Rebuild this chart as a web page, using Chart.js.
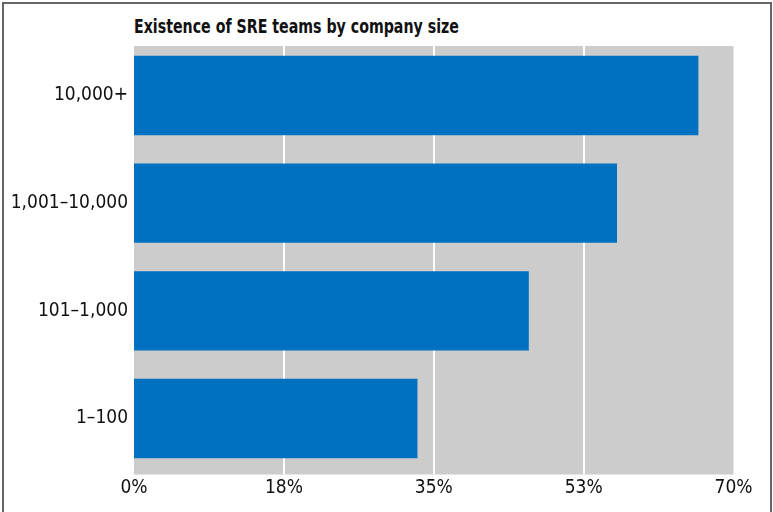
<!DOCTYPE html>
<html>
<head>
<meta charset="utf-8">
<script src="https://cdn.jsdelivr.net/npm/chart.js@4/dist/chart.umd.min.js"></script>
<style>
  html, body { margin: 0; padding: 0; background: #fff; }
  body { width: 773px; height: 512px; position: relative; overflow: hidden; }
  #frame {
    position: absolute; left: 2px; top: 2px; width: 766px; height: 520px;
    border: 2px solid #666; border-bottom: none;
  }
  #title {
    position: absolute; left: 134px; top: 15px;
    font: bold 19px "DejaVu Sans Condensed", "DejaVu Sans", sans-serif;
    color: #111; white-space: nowrap;
    transform: scaleX(0.83); transform-origin: 0 0;
  }
  #wrap { position: absolute; left: 0; top: 0; width: 773px; height: 512px; }
</style>
</head>
<body>
<div id="frame"></div>
<div id="title">Existence of SRE teams by company size</div>
<div id="wrap"><canvas id="chart"></canvas></div>
<script>
// ── Data ──
const companySizes = ['10,000+', '1,001–10,000', '101–1,000', '1–100'];
const sreTeamShare = [65.9, 56.4, 46.1, 33.1];
const axisMax = 70;
const axisStep = 17.5;

const FONT = '"DejaVu Sans Condensed", "DejaVu Sans", sans-serif';
const TEXT = '#111';
const PLOT_BG = '#cccccc';
const BAR = '#0070c0';

// Grey plot panel with white vertical guides, drawn under the bars
const panelPlugin = {
  id: 'panel',
  beforeDatasetsDraw(chart) {
    const { ctx, chartArea: a, scales: { x } } = chart;
    const top = a.top + 4.4;
    const bottom = a.bottom + 2.1;
    ctx.save();
    ctx.fillStyle = PLOT_BG;
    ctx.fillRect(a.left, top, a.right - a.left, bottom - top);
    ctx.strokeStyle = '#fff';
    ctx.lineWidth = 2;
    x.ticks.forEach((t) => {
      if (t.value <= 0 || t.value >= axisMax) return;
      const px = Math.round(x.getPixelForValue(t.value));
      ctx.beginPath();
      ctx.moveTo(px, top);
      ctx.lineTo(px, bottom);
      ctx.stroke();
    });
    ctx.restore();
  },
};

new Chart(document.getElementById('chart'), {
  type: 'bar',
  data: {
    labels: companySizes,
    datasets: [{
      data: sreTeamShare,
      backgroundColor: BAR,
      borderWidth: 0,
      categoryPercentage: 1,
      barPercentage: 0.737,
    }],
  },
  options: {
    indexAxis: 'y',
    responsive: true,
    maintainAspectRatio: false,
    animation: false,
    layout: { padding: { left: 0, top: 41.6, right: 39.5, bottom: 0 } },
    plugins: {
      legend: { display: false },
      tooltip: { enabled: false },
    },
    scales: {
      x: {
        min: 0,
        max: axisMax,
        border: { display: false },
        grid: { display: false, drawTicks: false },
        afterFit: (s) => { s.height = 39.6; },
        ticks: {
          stepSize: axisStep,
          padding: 4,
          color: TEXT,
          font: { family: FONT, size: 19 },
          maxRotation: 0,
          autoSkip: false,
          callback: (v) => Math.round(v) + '%',
        },
      },
      y: {
        border: { display: false },
        grid: { display: false, drawTicks: false },
        afterFit: (s) => { s.width = 134; },
        ticks: {
          padding: 6,
          color: TEXT,
          font: { family: FONT, size: 19 },
        },
      },
    },
  },
  plugins: [panelPlugin],
});
</script>
</body>
</html>
